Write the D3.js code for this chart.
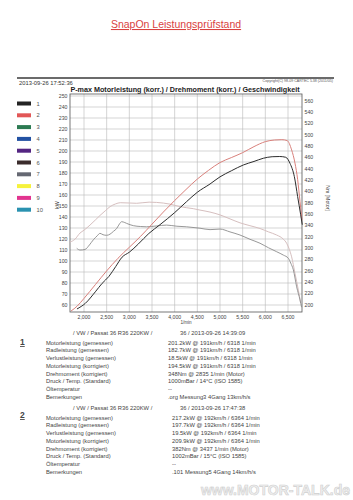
<!DOCTYPE html>
<html>
<head>
<meta charset="utf-8">
<script src="https://cdn.jsdelivr.net/npm/d3@7"></script>
<style>
  body { margin: 0; background: #fff; }
  svg { display: block; font-family: "Liberation Sans", Arial, sans-serif; }
</style>
</head>
<body>
<div id="chart"></div>
<script>
// ---- data ----
var rpmTicks = [2000, 2500, 3000, 3500, 4000, 4500, 5000, 5500, 6000, 6500];
var kwTicks = d3.range(60, 251, 10);
var nmTicks = d3.range(200, 561, 20);

// run 1 (black) power, kW
var power1 = [[1845,56.4],[2029,61.5],[2250,72],[2400,79.7],[2550,86],[2700,95],[2840,103.5],[3000,108],
  [3200,115.5],[3430,125],[3676,133],[4000,144],[4264,154],[4500,162.5],[4780,170],[5000,176.5],
  [5250,182],[5515,187.3],[5750,190.5],[5956,193.4],[6150,194.8],[6318,195],[6450,194.3],[6544,188.8],
  [6640,176.7],[6713,158.5],[6780,142],[6815,133]];
// run 2 (red) power, kW
var power2 = [[1713,54.5],[1850,59],[2000,66],[2250,78.5],[2500,91],[2750,102.5],[3000,112.5],[3250,122.5],
  [3500,133.5],[3750,144.5],[4000,155],[4250,165],[4500,174.5],[4750,182.5],[5000,189.5],[5250,194],
  [5500,198.5],[5750,204],[6000,208.5],[6200,210],[6364,210.3],[6480,209.5],[6580,201],[6654,189],
  [6713,174],[6765,154],[6810,137]];
// run 1 torque, Nm
var torque1 = [[1840,300],[1912,297],[2022,298],[2120,306],[2206,315],[2290,322],[2353,326.5],[2420,324],
  [2500,323],[2574,325],[2650,330],[2721,335],[2790,344],[2830,347],[2900,345.5],[2941,344],[3088,340],
  [3250,338.5],[3382,338],[3600,339.5],[3823,341],[4050,339],[4264,338],[4559,335.5],[4780,333],
  [5000,334],[5220,329],[5441,323.5],[5660,316],[5882,309],[6070,301],[6250,294],[6400,288],
  [6507,282.5],[6560,274],[6618,262],[6691,232],[6765,209],[6800,196]];
// run 2 torque, Nm
var torque2 = [[1690,311],[1800,316],[1912,327],[2000,332],[2132,341],[2250,350],[2353,358],[2480,367],
  [2574,373.5],[2700,378.5],[2800,380.5],[3000,380],[3162,379.5],[3437,381.5],[3603,381],[3897,378],
  [4118,373.5],[4411,370],[4559,367.5],[4780,364],[5000,359],[5220,352],[5441,345],[5660,340],
  [5882,335],[6070,329],[6250,323.5],[6400,316],[6470,309],[6530,298],[6580,285],[6654,256],
  [6728,226.5],[6780,203]];

var legendLabels = ["1","2","3","4","5","6","7","8","9","10"];
var legendColors = ["#232323","#e25757","#2c7a52","#2352a3","#542582","#3b2c2c","#656872","#f6f23c","#e2348f","#2a92b0"];

var rowLabels = ["Motorleistung (gemessen)","Radleistung (gemessen)","Verlustleistung (gemessen)",
  "Motorleistung (korrigiert)","Drehmoment (korrigiert)","Druck / Temp. (Standard)","Öltemperatur","Bemerkungen"];
var runHeaders = [["/ VW / Passat 36 R36 220KW /","36 / 2013-09-26 14:39:09"],
                  ["/ VW / Passat 36 R36 220KW /","36 / 2013-09-26 17:47:38"]];
var run1Values = ["201.2kW @ 191km/h / 6318 1/min","182.7kW @ 191km/h / 6318 1/min","18.5kW @ 191km/h / 6318 1/min",
  "194.5kW @ 191km/h / 6318 1/min","348Nm @ 2835 1/min (Motor)","1000mBar / 14°C   (ISO 1585)","--",
  ".org Messung3 4Gang 13km/h/s"];
var run2Values = ["217.2kW @ 192km/h / 6364 1/min","197.7kW @ 192km/h / 6364 1/min","19.5kW @ 192km/h / 6364 1/min",
  "209.9kW @ 192km/h / 6364 1/min","382Nm @ 3437 1/min (Motor)","1002mBar / 15°C   (ISO 1585)","--",
  ".101 Messung5 4Gang 14km/h/s"];

// ---- layout ----
var W = 353, H = 500;
var plot = {left: 70, right: 302, top: 94, bottom: 312};

var svg = d3.select("#chart").append("svg").attr("width", W).attr("height", H);

var x = d3.scaleLinear().domain([2000, 6500]).range([84, 288]);
var yL = d3.scaleLinear().domain([60, 250]).range([305, 96]);
var yR = d3.scaleLinear().domain([200, 560]).range([305, 101]);

// page header
svg.append("text")
  .attr("x", 176).attr("y", 28)
  .attr("text-anchor", "middle")
  .style("font-size", "10.5px")
  .style("fill", "#d9423f")
  .style("text-decoration", "underline")
  .text("SnapOn Leistungsprüfstand");

svg.append("line")
  .attr("x1", 17).attr("x2", 334).attr("y1", 78).attr("y2", 78)
  .attr("stroke", "#3a3a3a").attr("stroke-width", 1.6);

svg.append("text").attr("x", 19).attr("y", 84.5)
  .style("font-size", "5.8px").style("fill", "#333")
  .text("2013-09-26 17:52:36");

svg.append("text").attr("x", 333).attr("y", 81.5)
  .attr("text-anchor", "end")
  .style("font-size", "3.6px").style("fill", "#555")
  .text("Copyright(C) 98-09 CARTEC 5.38 (2011/05)");

svg.append("text").attr("x", 185).attr("y", 92)
  .attr("text-anchor", "middle")
  .style("font-size", "7.2px").style("font-weight", "bold").style("fill", "#222")
  .text("P-max Motorleistung (korr.) / Drehmoment (korr.) / Geschwindigkeit");

// legend
var leg = svg.append("g");
legendLabels.forEach(function(l, i) {
  var yy = 103.5 + i * 11.8;
  leg.append("rect").attr("x", 17).attr("y", yy - 2).attr("width", 14).attr("height", 4)
    .attr("fill", legendColors[i]);
  leg.append("text").attr("x", 36.5).attr("y", yy).attr("dy", "0.35em")
    .style("font-size", "5.8px").style("fill", "#555").text(l);
});

// grid
var grid = svg.append("g");
grid.selectAll(".hg").data(kwTicks).enter().append("line")
  .attr("x1", plot.left).attr("x2", plot.right)
  .attr("y1", function(d) { return yL(d); }).attr("y2", function(d) { return yL(d); })
  .attr("stroke", "#b9b9b9").attr("stroke-width", 0.6);
grid.selectAll(".vg").data(rpmTicks).enter().append("line")
  .attr("y1", plot.top).attr("y2", plot.bottom)
  .attr("x1", function(d) { return x(d); }).attr("x2", function(d) { return x(d); })
  .attr("stroke", "#b9b9b9").attr("stroke-width", 0.6);

svg.append("rect")
  .attr("x", plot.left).attr("y", plot.top)
  .attr("width", plot.right - plot.left).attr("height", plot.bottom - plot.top)
  .attr("fill", "none").attr("stroke", "#555").attr("stroke-width", 0.8);

// axis labels
svg.append("g").selectAll("text").data(kwTicks).enter().append("text")
  .attr("x", 67.5).attr("y", function(d) { return yL(d); }).attr("dy", "0.35em")
  .attr("text-anchor", "end")
  .style("font-size", "5.2px").style("fill", "#444")
  .text(function(d) { return d; });

svg.append("g").selectAll("text").data(nmTicks).enter().append("text")
  .attr("x", 304.5).attr("y", function(d) { return yR(d); }).attr("dy", "0.35em")
  .style("font-size", "5.2px").style("fill", "#444")
  .text(function(d) { return d; });

svg.append("g").selectAll("text").data(rpmTicks).enter().append("text")
  .attr("x", function(d) { return x(d); }).attr("y", 318.8)
  .attr("text-anchor", "middle")
  .style("font-size", "5.2px").style("fill", "#444")
  .text(d3.format(","));

svg.append("text").attr("x", 186).attr("y", 324.2).attr("text-anchor", "middle")
  .style("font-size", "4.6px").style("fill", "#444").text("1/min");

svg.append("text")
  .attr("transform", "translate(59,205) rotate(-90)")
  .attr("text-anchor", "middle")
  .style("font-size", "5.4px").style("fill", "#444").text("kW");

svg.append("text")
  .attr("transform", "translate(325.5,198) rotate(90)")
  .attr("text-anchor", "middle")
  .style("font-size", "5.2px").style("fill", "#444").text("Nm [Motor]");

// curves
var lineKw = d3.line().x(function(d) { return x(d[0]); }).y(function(d) { return yL(d[1]); })
  .curve(d3.curveMonotoneX);
var lineNm = d3.line().x(function(d) { return x(d[0]); }).y(function(d) { return yR(d[1]); })
  .curve(d3.curveMonotoneX);

var curves = svg.append("g").attr("fill", "none");
curves.append("path").attr("d", lineNm(torque2)).attr("stroke", "#d6bfbf").attr("stroke-width", 1);
curves.append("path").attr("d", lineNm(torque1)).attr("stroke", "#8c8c8c").attr("stroke-width", 0.9);
curves.append("path").attr("d", lineKw(power2)).attr("stroke", "#d9817c").attr("stroke-width", 1);
curves.append("path").attr("d", lineKw(power1)).attr("stroke", "#2d2d2d").attr("stroke-width", 1);

// result table
function drawBlock(num, header, values, y0, valX, numY) {
  var g = svg.append("g").style("fill", "#444").style("font-size", "5.8px");
  g.append("text").attr("x", 73).attr("y", y0).text(header[0]);
  g.append("text").attr("x", 180).attr("y", y0).text(header[1]);
  svg.append("text").attr("x", 20).attr("y", numY)
    .style("font-size", "8.5px").style("font-weight", "bold").style("fill", "#444")
    .style("text-decoration", "underline").text(num);
  rowLabels.forEach(function(r, i) {
    var yy = y0 + 9.5 + i * 7.75;
    g.append("text").attr("x", 46).attr("y", yy).text(r);
    g.append("text").attr("x", valX).attr("y", yy).text(values[i]);
  });
}
drawBlock("1", runHeaders[0], run1Values, 335, 168, 345);
drawBlock("2", runHeaders[1], run2Values, 410, 172, 418);

// watermark
svg.append("text").attr("x", 350).attr("y", 495).attr("text-anchor", "end")
  .style("font-size", "14px").style("font-weight", "bold")
  .style("fill", "#f0f0f0").style("stroke", "#cfcfcf").style("stroke-width", 0.6)
  .text("www.MOTOR-TALK.de");
</script>
</body>
</html>
